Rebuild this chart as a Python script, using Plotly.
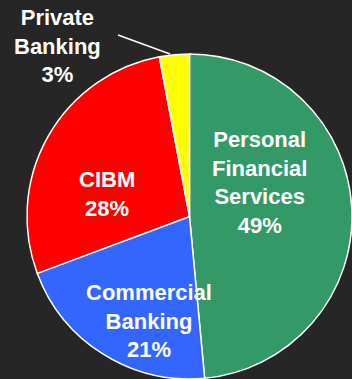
import plotly.graph_objects as go

# Business segment split
segments = ["Personal<br>Financial<br>Services", "Commercial<br>Banking", "CIBM", "Private<br>Banking"]
shares = [49, 21, 28, 3]
colors = ["#339966", "#3366FF", "#FF0000", "#FFFF00"]

W, H = 352, 379

# Label anchor points (pixels from top-left) for each segment's caption
label_pos = [(259, 182), (149, 321), (107, 194), (57, 46)]

fig = go.Figure(
    go.Pie(
        labels=[s.replace("<br>", " ") for s in segments],
        values=shares,
        sort=False,
        direction="clockwise",
        rotation=0,
        marker=dict(colors=colors, line=dict(color="white", width=1.5)),
        textinfo="none",
        hoverinfo="label+value",
        domain=dict(x=[27 / W, 1], y=[0, 325 / H]),
        showlegend=False,
    )
)

annotations = []
for seg, val, (px, py) in zip(segments, shares, label_pos):
    annotations.append(
        dict(
            x=px / W,
            y=1 - py / H,
            xref="paper",
            yref="paper",
            text=f"<b>{seg}<br>{val}%</b>",
            showarrow=False,
            xanchor="center",
            yanchor="middle",
            align="center",
            font=dict(family="Liberation Sans, Arial, sans-serif", size=22, color="white"),
        )
    )

# Leader line from the Private Banking caption to its slice
fig.add_shape(
    type="line",
    xref="paper",
    yref="paper",
    x0=118 / W,
    y0=1 - 35 / H,
    x1=170 / W,
    y1=1 - 54 / H,
    line=dict(color="white", width=1.5),
)

fig.update_layout(
    width=W,
    height=H,
    margin=dict(l=0, r=0, t=0, b=0),
    paper_bgcolor="#262626",
    plot_bgcolor="#262626",
    annotations=annotations,
)

fig.write_html("out.html")
